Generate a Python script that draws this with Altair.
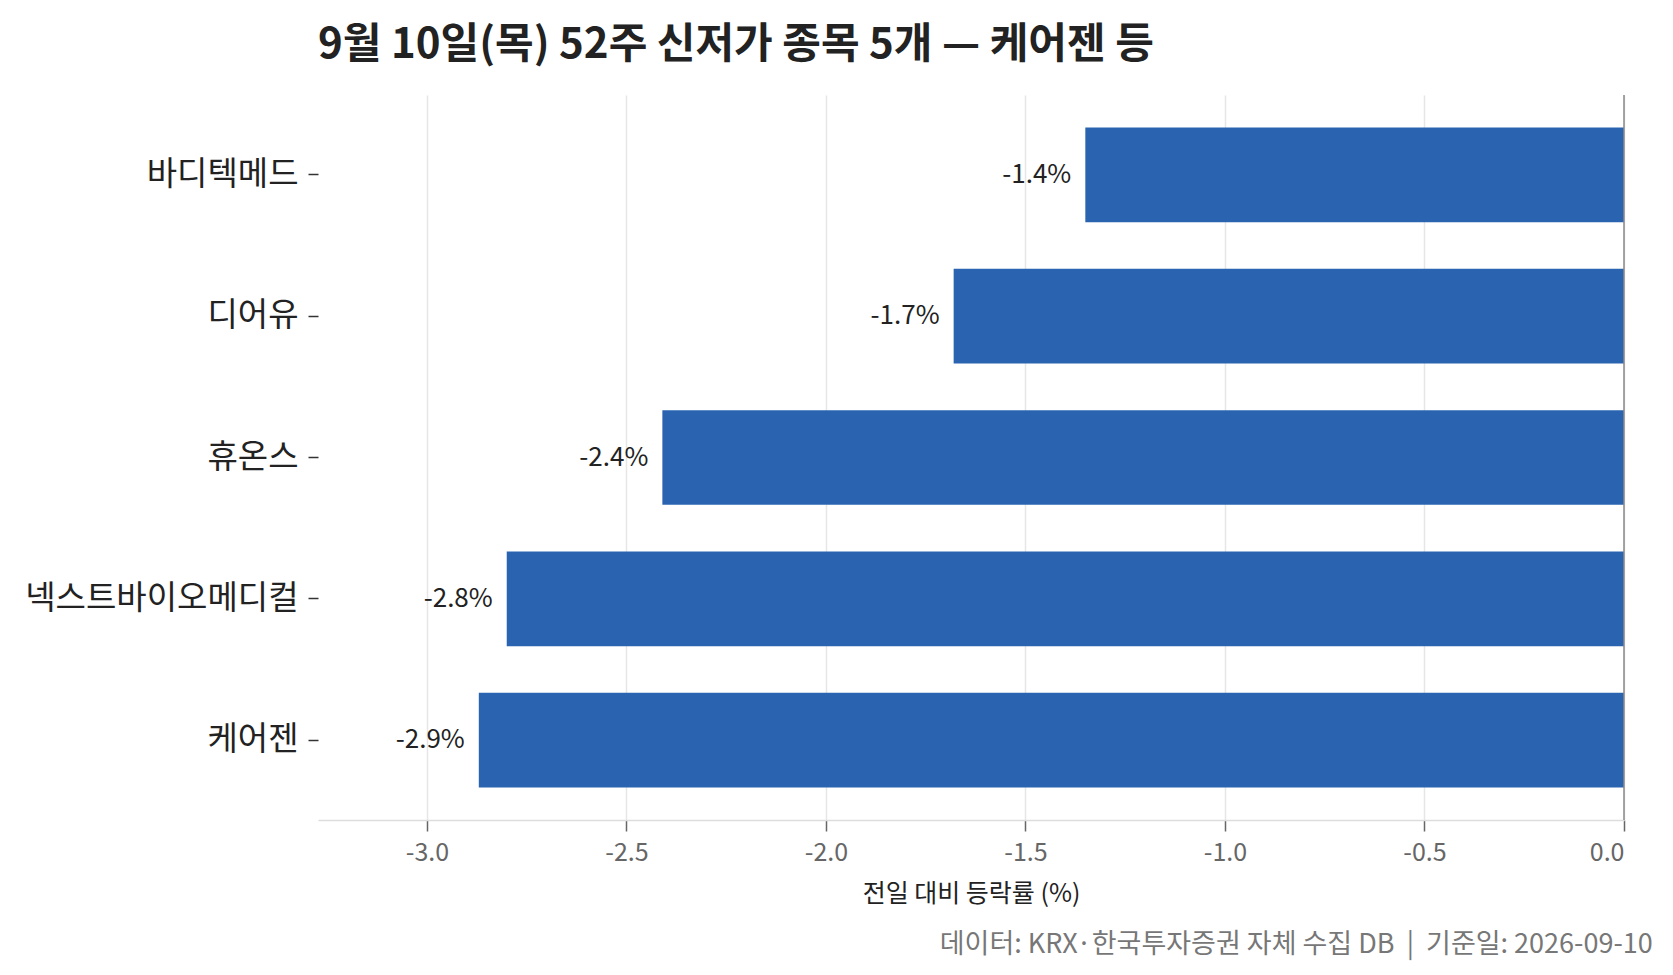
import altair as alt
import pandas as pd

names = ["바디텍메드", "디어유", "휴온스", "넥스트바이오메디컬", "케어젠"]
values = [-1.35, -1.68, -2.41, -2.80, -2.87]
x_ticks = [-3.0, -2.5, -2.0, -1.5, -1.0, -0.5, 0.0]

title_text = "9월 10일(목) 52주 신저가 종목 5개 — 케어젠 등"
x_title = "전일 대비 등락률 (%)"
footer_text = "데이터: KRX·한국투자증권 자체 수집 DB\u00a0\u00a0|\u00a0\u00a0기준일: 2026-09-10"

FONT = "Noto Sans CJK KR"

df = pd.DataFrame({
    "name": names,
    "value": values,
    "label": [f"{v:.1f}%" for v in values],
})

y_enc = alt.Y(
    "name:N",
    sort=names,
    scale=alt.Scale(paddingInner=0.33, paddingOuter=0.23),
    axis=alt.Axis(
        title=None, domain=False, labelFontSize=33, labelColor="#222222",
        labelFont=FONT, tickColor="#333333", tickSize=10, tickWidth=1.5,
        labelPadding=10, labelLimit=0, minExtent=290, maxExtent=290, grid=False,
    ),
)
x_enc = alt.X(
    "value:Q",
    scale=alt.Scale(domain=[-3.273, 0], nice=False, zero=False),
    axis=alt.Axis(
        values=x_ticks, labelExpr="replace(format(datum.value, '.1f'), '\u2212', '-')",
        title=x_title,
        labelFontSize=25, labelColor="#666666", labelFont=FONT,
        tickColor="#666666", tickSize=11, tickWidth=1.5,
        domainColor="#dddddd", domainWidth=1.5,
        gridColor="#e6e6e6", gridWidth=1.5, grid=True,
        labelPadding=9, titleFontSize=25, titleColor="#222222",
        titleFont=FONT, titleFontWeight="normal", titlePadding=16,
    ),
)

base = alt.Chart(df)
bars = base.mark_bar(color="#2a64b0").encode(x=x_enc, y=y_enc)
labels = base.mark_text(align="right", baseline="middle", dx=-14,
                        fontSize=26, font=FONT, color="#222222").encode(
    x="value:Q",
    y=alt.Y("name:N", sort=names),
    text="label:N")
zero = alt.Chart(pd.DataFrame({"value": [0.0]})).mark_rule(
    color="#888888", strokeWidth=1.5).encode(x="value:Q")

main = alt.layer(bars, labels, zero).properties(
    width=1306, height=725,
    view=alt.ViewBackground(strokeWidth=0, stroke="transparent"),
    title=alt.TitleParams(title_text, anchor="start", frame="group",
                          fontSize=42, font=FONT, fontWeight="bold",
                          color="#222222", offset=27, limit=1400),
)

chart = alt.vconcat(main).properties(
    title=alt.TitleParams(footer_text, orient="bottom", anchor="end",
                          fontSize=27, font=FONT, fontWeight="normal",
                          color="#777777", offset=26, dx=28),
    padding={"left": 16, "top": 16, "right": 10, "bottom": 10},
).configure_view(strokeWidth=0, stroke="transparent").configure_axisY(
    domain=False).configure(font=FONT)

chart.save("out.html", embed_options={"renderer": "svg", "actions": False})
